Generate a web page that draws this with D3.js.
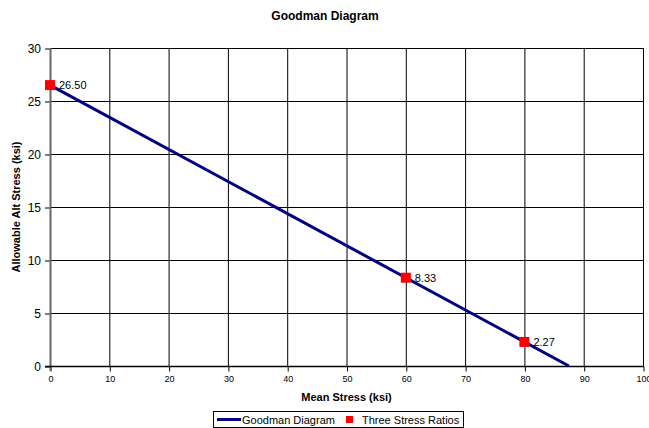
<!DOCTYPE html>
<html>
<head>
<meta charset="utf-8">
<script src="https://cdn.jsdelivr.net/npm/d3@7"></script>
<style>
  html, body { margin: 0; padding: 0; background: #fff; }
  svg { display: block; font-family: "Liberation Sans", Arial, sans-serif; }
</style>
</head>
<body>
<svg id="chart" width="649" height="428"></svg>
<script>
// Goodman line: endpoints on the stress axes (ksi)
const lineMean = [0, 87.5];
const lineAlt = [26.5, 0];

// Three stress-ratio points on the line
const ratioMean = [0, 60, 80];
const ratioAlt = [26.5, 8.33, 2.27];
const ratioLabels = ["26.50", "8.33", "2.27"];

const xTicks = [0, 10, 20, 30, 40, 50, 60, 70, 80, 90, 100];
const yTicks = [0, 5, 10, 15, 20, 25, 30];

const svg = d3.select("#chart");
const m = { left: 50, right: 643, top: 48, bottom: 366 };

const x = d3.scaleLinear().domain([0, 100]).range([m.left, m.right]);
const y = d3.scaleLinear().domain([0, 30]).range([m.bottom, m.top]);

// Title
svg.append("text").attr("x", 325).attr("y", 20).attr("text-anchor", "middle")
  .attr("font-size", 12).attr("font-weight", "bold").text("Goodman Diagram");

// Grid
const grid = svg.append("g");
grid.selectAll(".vg").data(xTicks).join("line")
  .attr("x1", d => x(d) + 0.5).attr("x2", d => x(d) + 0.5)
  .attr("y1", m.top).attr("y2", m.bottom)
  .attr("stroke", "#000").attr("stroke-width", 1);
grid.selectAll(".hg").data(yTicks).join("line")
  .attr("x1", m.left).attr("x2", m.right)
  .attr("y1", d => Math.round(y(d)) + 0.5).attr("y2", d => Math.round(y(d)) + 0.5)
  .attr("stroke", "#000").attr("stroke-width", 1);

// Axes
const xAxis = svg.append("g").attr("transform", `translate(0.5,${m.bottom + 0.5})`)
  .call(d3.axisBottom(x).tickValues(xTicks).tickSize(5).tickPadding(4));
const yAxis = svg.append("g").attr("transform", `translate(${m.left},0.5)`)
  .call(d3.axisLeft(y).tickValues(yTicks).tickSize(5).tickPadding(4));
[xAxis, yAxis].forEach(a => {
  a.select(".domain").remove();
  a.selectAll("line").attr("stroke", "#000");
  a.selectAll("text").attr("font-family", "Liberation Sans, Arial, sans-serif")
    .attr("fill", "#000");
});
xAxis.selectAll("text").attr("font-size", 9);
yAxis.selectAll("text").attr("font-size", 12);

// Left axis line (grey, heavier)
svg.append("line").attr("x1", m.left + 0.5).attr("x2", m.left + 0.5)
  .attr("y1", m.top).attr("y2", m.bottom + 5)
  .attr("stroke", "#666").attr("stroke-width", 2);
// Bottom axis line
svg.append("line").attr("x1", m.left - 5).attr("x2", m.right + 1)
  .attr("y1", m.bottom + 0.5).attr("y2", m.bottom + 0.5)
  .attr("stroke", "#000").attr("stroke-width", 1.5);

// Axis titles
svg.append("text").attr("x", x(50)).attr("y", 401).attr("text-anchor", "middle")
  .attr("font-size", 11).attr("font-weight", "bold").text("Mean Stress (ksi)");
svg.append("text").attr("transform", `translate(20,${(m.top + m.bottom) / 2}) rotate(-90)`)
  .attr("text-anchor", "middle").attr("font-size", 11).attr("font-weight", "bold")
  .text("Allowable Alt Stress (ksi)");

// Goodman line
const lineData = lineMean.map((d, i) => [d, lineAlt[i]]);
svg.append("path").datum(lineData)
  .attr("d", d3.line().x(d => x(d[0])).y(d => y(d[1])))
  .attr("fill", "none").attr("stroke", "#000080").attr("stroke-width", 3);

// Stress-ratio markers and labels
const pts = ratioMean.map((d, i) => ({ mx: d, ay: ratioAlt[i], lab: ratioLabels[i] }));
svg.selectAll(".pt").data(pts).join("rect")
  .attr("x", d => x(d.mx) - 5).attr("y", d => y(d.ay) - 5)
  .attr("width", 10).attr("height", 10).attr("fill", "#ff0000");
svg.selectAll(".lab").data(pts).join("text")
  .attr("x", d => x(d.mx) + 9).attr("y", d => y(d.ay) + 4)
  .attr("font-size", 11).attr("fill", "#000").text(d => d.lab);

// Legend
const lg = svg.append("g");
lg.append("rect").attr("x", 213.5).attr("y", 411.5).attr("width", 250).attr("height", 16)
  .attr("fill", "#fff").attr("stroke", "#000").attr("stroke-width", 1);
lg.append("line").attr("x1", 217).attr("x2", 241).attr("y1", 419.5).attr("y2", 419.5)
  .attr("stroke", "#000080").attr("stroke-width", 3);
lg.append("text").attr("x", 242).attr("y", 423.5).attr("font-size", 11).text("Goodman Diagram");
lg.append("rect").attr("x", 346).attr("y", 416).attr("width", 7).attr("height", 7).attr("fill", "#ff0000");
lg.append("text").attr("x", 362).attr("y", 423.5).attr("font-size", 11).text("Three Stress Ratios");
</script>
</body>
</html>
